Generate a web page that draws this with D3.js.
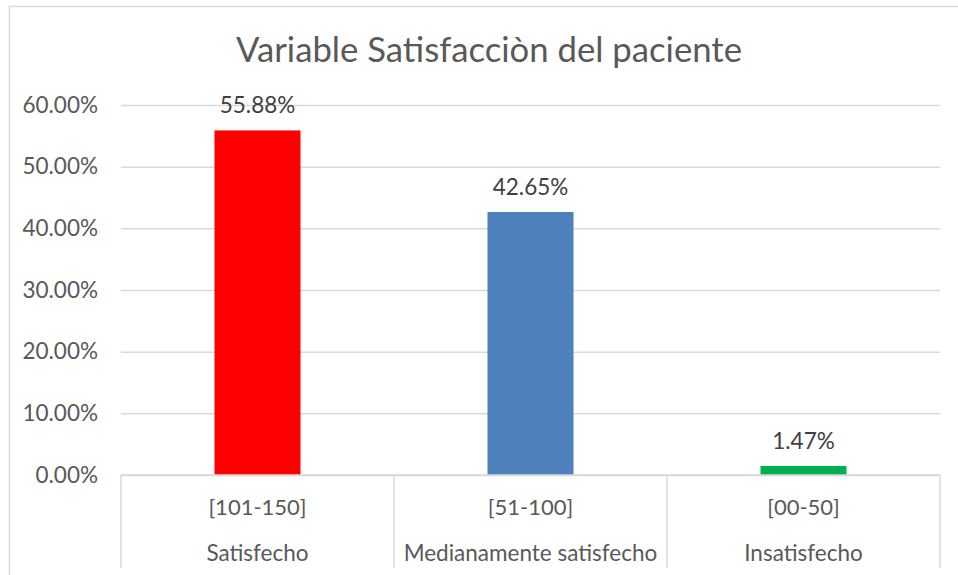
<!DOCTYPE html>
<html lang="es">
<head>
  <meta charset="UTF-8" />
  <title>Variable Satisfacciòn del paciente</title>
  <script src="https://d3js.org/d3.v7.min.js"></script>
  <style>
    html, body { margin: 0; padding: 0; background: #fff; }
    svg { display: block; font-family: Lato, "Open Sans", sans-serif; }
  </style>
</head>
<body>
  <svg id="chart" width="958" height="575"></svg>

  <script>
    // Data
    const ranges = ["[101-150]", "[51-100]", "[00-50]"];
    const groups = ["Satisfecho", "Medianamente satisfecho", "Insatisfecho"];
    const values = [0.5588, 0.4265, 0.0147];
    const barColors = ["#FF0000", "#4F81BD", "#00B050"];
    const yTicks = [0, 0.1, 0.2, 0.3, 0.4, 0.5, 0.6];
    const title = "Variable Satisfacciòn del paciente";

    const svg = d3.select("#chart");
    const plot = {left: 121, right: 940, top: 105, bottom: 475, axisBottom: 568};
    const textColor = "#595959";
    const gridColor = "#D9D9D9";
    const labelSize = "22.5px";

    // Chart area border
    svg.append("rect")
      .attr("x", 9.5).attr("y", 6.5)
      .attr("width", 1000).attr("height", 600)
      .attr("fill", "none")
      .attr("stroke", gridColor)
      .attr("stroke-width", 1.5);

    const x = d3.scaleBand()
      .domain(ranges)
      .range([plot.left, plot.right])
      .paddingInner(0).paddingOuter(0);

    const y = d3.scaleLinear()
      .domain([0, 0.6])
      .range([plot.bottom, plot.top]);

    // Gridlines + y axis
    const yAxis = svg.append("g")
      .attr("transform", `translate(${plot.left},0)`)
      .call(d3.axisLeft(y)
        .tickValues(yTicks)
        .tickSize(-(plot.right - plot.left))
        .tickPadding(23)
        .tickFormat(d3.format(".2%")));
    yAxis.select(".domain").remove();
    yAxis.selectAll(".tick line").attr("stroke", gridColor).attr("stroke-width", 1.5);
    yAxis.selectAll(".tick text")
      .attr("fill", textColor)
      .attr("font-size", labelSize)
      .attr("font-family", "Lato, sans-serif");

    // Bars
    const barW = x.bandwidth() * 0.315;
    svg.selectAll(".bar")
      .data(values)
      .enter().append("rect")
        .attr("class", "bar")
        .attr("x", (d, i) => x(ranges[i]) + (x.bandwidth() - barW) / 2)
        .attr("y", d => y(d))
        .attr("width", barW)
        .attr("height", d => y(0) - y(d))
        .attr("fill", (d, i) => barColors[i]);

    // Data labels
    svg.selectAll(".value")
      .data(values)
      .enter().append("text")
        .attr("class", "value")
        .attr("x", (d, i) => x(ranges[i]) + x.bandwidth() / 2)
        .attr("y", d => y(d) - 17)
        .attr("text-anchor", "middle")
        .attr("font-size", labelSize)
        .attr("fill", "#404040")
        .text(d => d3.format(".2%")(d));

    // Category axis (two levels) with separators
    const bounds = ranges.map(r => x(r)).concat([plot.right]);
    svg.append("line")
      .attr("x1", plot.left).attr("x2", plot.right)
      .attr("y1", y(0)).attr("y2", y(0))
      .attr("stroke", gridColor).attr("stroke-width", 1.5);
    svg.selectAll(".sep")
      .data(bounds)
      .enter().append("line")
        .attr("class", "sep")
        .attr("x1", d => d).attr("x2", d => d)
        .attr("y1", y(0)).attr("y2", plot.axisBottom)
        .attr("stroke", gridColor).attr("stroke-width", 1.5);

    svg.selectAll(".range")
      .data(ranges)
      .enter().append("text")
        .attr("class", "range")
        .attr("x", d => x(d) + x.bandwidth() / 2)
        .attr("y", 507)
        .attr("dy", "0.35em")
        .attr("text-anchor", "middle")
        .attr("font-size", "22px")
        .attr("fill", textColor)
        .text(d => d);

    svg.selectAll(".group")
      .data(groups)
      .enter().append("text")
        .attr("class", "group")
        .attr("x", (d, i) => x(ranges[i]) + x.bandwidth() / 2)
        .attr("y", 553)
        .attr("dy", "0.35em")
        .attr("text-anchor", "middle")
        .attr("font-size", labelSize)
        .attr("fill", textColor)
        .text(d => d);

    // Title
    svg.append("text")
      .attr("x", 489)
      .attr("y", 50)
      .attr("dy", "0.35em")
      .attr("text-anchor", "middle")
      .attr("font-size", "34.7px")
      .attr("fill", textColor)
      .text(title);
  </script>
</body>
</html>
